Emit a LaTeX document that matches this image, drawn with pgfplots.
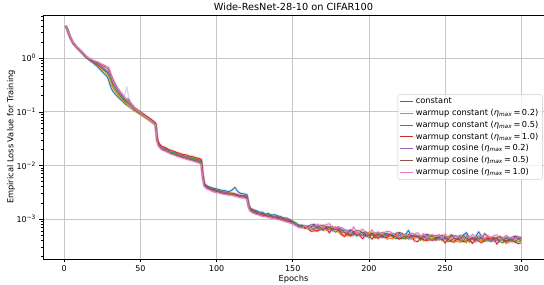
\documentclass[border=0pt]{standalone}
\usepackage{fontspec}
\setmainfont{DejaVu Sans}
\usepackage{pgfplots}
\pgfplotsset{compat=1.18}
\usepackage{pgfplotstable}
\usetikzlibrary{calc}
\definecolor{tblue}{HTML}{1F77B4}
\definecolor{torange}{HTML}{FF7F0E}
\definecolor{tgreen}{HTML}{2CA02C}
\definecolor{tred}{HTML}{D62728}
\definecolor{tpurple}{HTML}{9467BD}
\definecolor{tbrown}{HTML}{8C564B}
\definecolor{tpink}{HTML}{E377C2}

\pgfplotstableread{
e c wa wb wd ca cb cd
1 4.0 4.0 4.0 4.0 4.05 4.0 4.05
2 3.45 3.47 3.46 3.45 3.48 3.46 3.49
3 2.85 2.87 2.86 2.85 2.88 2.87 2.89
4 2.4 2.42 2.42 2.41 2.43 2.42 2.44
5 2.1 2.12 2.12 2.11 2.13 2.12 2.14
6 1.88 1.9 1.9 1.89 1.91 1.9 1.92
8 1.6 1.62 1.62 1.61 1.63 1.62 1.64
10 1.41 1.43 1.43 1.42 1.44 1.43 1.45
12 1.22 1.25 1.25 1.24 1.26 1.26 1.27
14 1.06 1.08 1.08 1.08 1.09 1.09 1.10
16 0.95 0.97 0.97 0.97 0.98 0.98 1.00
18 0.86 0.88 0.89 0.89 0.90 0.91 0.94
20 0.77 0.80 0.82 0.82 0.83 0.86 0.89
22 0.69 0.73 0.75 0.76 0.77 0.81 0.86
24 0.60 0.65 0.68 0.70 0.70 0.76 0.79
26 0.52 0.58 0.61 0.64 0.64 0.71 0.75
27 0.49 0.55 0.58 0.61 0.61 0.69 0.73
28 0.46 0.51 0.55 0.58 0.58 0.66 0.67
29 0.40 0.47 0.51 0.55 0.55 0.63 0.69
30 0.32 0.40 0.45 0.50 0.50 0.56 0.58
31 0.27 0.32 0.37 0.42 0.42 0.47 0.45
32 0.24 0.28 0.31 0.35 0.35 0.40 0.38
34 0.205 0.23 0.25 0.28 0.28 0.31 0.30
36 0.18 0.195 0.21 0.23 0.23 0.25 0.25
38 0.16 0.17 0.18 0.195 0.20 0.21 0.21
40 0.14 0.148 0.158 0.168 0.17 0.178 0.18
42 0.128 0.13 0.142 0.15 0.175 0.157 0.155
44 0.117 0.117 0.128 0.135 0.138 0.14 0.137
46 0.106 0.105 0.112 0.118 0.118 0.12 0.118
48 0.098 0.097 0.102 0.108 0.107 0.108 0.106
50 0.090 0.089 0.093 0.099 0.097 0.098 0.096
52 0.083 0.082 0.085 0.091 0.088 0.089 0.087
54 0.076 0.075 0.078 0.083 0.080 0.081 0.079
56 0.069 0.069 0.071 0.076 0.073 0.073 0.072
58 0.063 0.063 0.065 0.069 0.066 0.066 0.065
60 0.057 0.057 0.059 0.062 0.058 0.058 0.057
61 30e-3 30e-3 31e-3 33e-3 29e-3 29e-3 28e-3
62 24.5e-3 24.0e-3 25.0e-3 26.2e-3 23.6e-3 23.2e-3 22.6e-3
64 21.2e-3 21.8e-3 20.8e-3 22.8e-3 21.5e-3 20.0e-3 19.7e-3
66 19.8e-3 20.5e-3 21.0e-3 21.8e-3 19.6e-3 19.2e-3 18.5e-3
68 19.0e-3 18.4e-3 19.4e-3 20.3e-3 18.6e-3 17.8e-3 17.6e-3
70 17.8e-3 18.2e-3 17.3e-3 19.1e-3 17.4e-3 16.8e-3 16.3e-3
72 16.7e-3 17.3e-3 17.6e-3 18.4e-3 16.5e-3 16.2e-3 15.7e-3
74 16.4e-3 15.8e-3 16.6e-3 17.4e-3 15.9e-3 15.3e-3 14.8e-3
76 15.6e-3 15.9e-3 15.5e-3 16.8e-3 15.0e-3 14.7e-3 14.2e-3
78 15.0e-3 14.7e-3 15.3e-3 16.0e-3 14.6e-3 14.0e-3 13.6e-3
80 14.4e-3 14.7e-3 14.6e-3 15.8e-3 14.1e-3 13.6e-3 13.1e-3
82 14.1e-3 13.6e-3 14.3e-3 15.0e-3 13.5e-3 13.1e-3 12.6e-3
84 13.4e-3 13.8e-3 13.7e-3 14.7e-3 13.0e-3 12.6e-3 12.2e-3
86 13.1e-3 12.8e-3 13.3e-3 14.1e-3 12.6e-3 12.2e-3 11.7e-3
88 12.5e-3 12.6e-3 12.8e-3 13.6e-3 12.1e-3 11.7e-3 11.2e-3
90 11.8e-3 11.9e-3 12.2e-3 13.0e-3 11.5e-3 11.1e-3 10.6e-3
91 64e-4 63e-4 64e-4 67e-4 61e-4 60e-4 58e-4
92 45e-4 43e-4 44e-4 46e-4 42e-4 41e-4 40e-4
94 41e-4 38e-4 40e-4 40e-4 39e-4 38e-4 36e-4
96 39e-4 37e-4 38e-4 37e-4 37e-4 36e-4 34e-4
98 37.5e-4 35.5e-4 34.5e-4 36.2e-4 34.5e-4 33.8e-4 32.0e-4
100 36.5e-4 35.0e-4 33.4e-4 34.2e-4 33.6e-4 32.8e-4 31.0e-4
102 35.2e-4 32.5e-4 33.8e-4 33.0e-4 32.4e-4 31.6e-4 30.4e-4
104 34.4e-4 32.8e-4 31.3e-4 32.0e-4 31.8e-4 30.2e-4 29.3e-4
106 33.5e-4 31.2e-4 32.0e-4 30.6e-4 30.8e-4 29.7e-4 28.7e-4
108 32.5e-4 30.5e-4 29.8e-4 30.6e-4 29.6e-4 29.0e-4 27.8e-4
110 34.5e-4 30.8e-4 29.9e-4 29.7e-4 29.5e-4 29.0e-4 27.9e-4
112 39.0e-4 29.5e-4 29.8e-4 28.7e-4 28.8e-4 28.0e-4 26.5e-4
114 32.5e-4 28.4e-4 27.6e-4 28.5e-4 27.7e-4 26.8e-4 25.8e-4
116 30.0e-4 27.6e-4 27.2e-4 26.8e-4 26.7e-4 25.9e-4 24.8e-4
118 29.6e-4 26.8e-4 27.1e-4 27.5e-4 26.2e-4 25.8e-4 24.5e-4
120 28.5e-4 26.2e-4 26.0e-4 26.5e-4 25.5e-4 25.0e-4 23.8e-4
121 19.5e-4 18.2e-4 18.0e-4 18.3e-4 17.6e-4 17.3e-4 16.8e-4
122 16.2e-4 15.1e-4 15.0e-4 15.3e-4 14.7e-4 14.5e-4 14.0e-4
124 15.0e-4 14.2e-4 13.9e-4 14.3e-4 13.7e-4 13.4e-4 12.9e-4
126 14.4e-4 13.6e-4 13.1e-4 13.7e-4 13.0e-4 12.8e-4 12.2e-4
128 13.5e-4 12.9e-4 13.1e-4 12.6e-4 12.7e-4 12.1e-4 11.9e-4
130 13.5e-4 12.3e-4 12.0e-4 12.7e-4 12.1e-4 11.9e-4 11.1e-4
132 12.4e-4 12.5e-4 11.7e-4 11.9e-4 11.6e-4 11.7e-4 11.1e-4
134 12.7e-4 11.5e-4 12.1e-4 11.5e-4 11.7e-4 11.0e-4 10.7e-4
136 11.9e-4 11.8e-4 11.1e-4 11.6e-4 11.0e-4 11.1e-4 10.1e-4
138 12.1e-4 11.0e-4 11.3e-4 10.8e-4 11.0e-4 10.5e-4 10.4e-4
140 11.5e-4 11.0e-4 10.6e-4 11.1e-4 10.3e-4 10.4e-4 9.8e-4
142 11.2e-4 10.3e-4 10.8e-4 10.0e-4 10.4e-4 9.8e-4 9.6e-4
144 10.5e-4 10.4e-4 9.8e-4 10.2e-4 9.7e-4 9.8e-4 9.1e-4
146 10.5e-4 9.5e-4 9.9e-4 9.4e-4 9.6e-4 9.0e-4 8.9e-4
148 9.8e-4 9.6e-4 9.1e-4 9.6e-4 9.0e-4 9.1e-4 8.4e-4
150 9.2e-4 8.9e-4 8.8e-4 8.7e-4 8.7e-4 8.4e-4 8.1e-4
152 8.3e-4 8.1e-4 8.5e-4 7.7e-4 8.0e-4 7.7e-4 7.6e-4
154 7.8e-4 7.5e-4 7.3e-4 7.5e-4 7.4e-4 7.3e-4 6.9e-4
156 7.4e-4 7.2e-4 7.8e-4 7.1e-4 7.0e-4 7.5e-4 6.8e-4
158 7.4e-4 7.6e-4 7.0e-4 6.8e-4 7.3e-4 6.7e-4 7.4e-4
160 7.3e-4 6.9e-4 7.4e-4 6.7e-4 7.0e-4 7.2e-4 6.6e-4
162 7.7e-4 6.4e-4 7.0e-4 5.9e-4 7.8e-4 7.1e-4 7.8e-4
164 7.9e-4 6.5e-4 6.3e-4 6.0e-4 7.2e-4 8.0e-4 6.7e-4
166 7.2e-4 5.8e-4 7.5e-4 6.1e-4 7.3e-4 6.6e-4 8.1e-4
168 6.5e-4 6.7e-4 7.1e-4 6.3e-4 6.3e-4 7.6e-4 7.6e-4
170 6.6e-4 7.3e-4 6.1e-4 6.6e-4 6.7e-4 7.7e-4 6.9e-4
172 6.7e-4 6.1e-4 6.9e-4 7.0e-4 6.5e-4 7.3e-4 7.9e-4
174 6.8e-4 7.0e-4 7.2e-4 5.5e-4 6.3e-4 7.0e-4 8.2e-4
176 6.2e-4 6.7e-4 6.4e-4 6.8e-4 6.0e-4 7.3e-4 7.0e-4
178 6.8e-4 7.2e-4 5.7e-4 6.4e-4 6.7e-4 6.5e-4 6.7e-4
180 7.0e-4 5.7e-4 6.1e-4 6.6e-4 7.2e-4 6.2e-4 6.9e-4
182 6.2e-4 5.0e-4 6.4e-4 5.3e-4 6.3e-4 5.7e-4 7.0e-4
184 6.2e-4 5.1e-4 5.6e-4 4.7e-4 6.3e-4 5.7e-4 6.3e-4
186 5.9e-4 4.8e-4 5.2e-4 5.6e-4 6.1e-4 5.2e-4 5.9e-4
188 6.3e-4 5.1e-4 5.0e-4 4.8e-4 5.7e-4 6.3e-4 5.3e-4
190 5.3e-4 4.9e-4 5.6e-4 5.6e-4 5.2e-4 5.8e-4 7.2e-4
192 5.2e-4 5.7e-4 4.8e-4 5.3e-4 5.3e-4 6.1e-4 5.4e-4
194 5.1e-4 5.2e-4 5.5e-4 4.9e-4 4.9e-4 6.0e-4 6.0e-4
196 5.3e-4 5.5e-4 5.7e-4 4.3e-4 5.0e-4 5.5e-4 6.5e-4
198 4.9e-4 5.3e-4 5.0e-4 5.4e-4 4.7e-4 5.8e-4 5.5e-4
200 5.4e-4 5.7e-4 4.5e-4 5.0e-4 5.3e-4 5.1e-4 5.3e-4
202 5.2e-4 5.4e-4 5.5e-4 4.2e-4 4.9e-4 5.4e-4 6.3e-4
204 5.3e-4 5.6e-4 4.4e-4 5.0e-4 5.2e-4 5.1e-4 5.2e-4
206 5.6e-4 4.7e-4 5.1e-4 4.3e-4 5.7e-4 5.2e-4 5.7e-4
208 4.7e-4 5.1e-4 4.8e-4 5.1e-4 4.5e-4 5.5e-4 5.3e-4
210 4.7e-4 4.9e-4 5.2e-4 4.6e-4 4.6e-4 5.6e-4 5.6e-4
212 5.3e-4 4.2e-4 5.4e-4 4.5e-4 5.3e-4 4.8e-4 5.9e-4
214 4.9e-4 4.4e-4 5.1e-4 5.1e-4 4.8e-4 5.3e-4 5.8e-4
216 5.3e-4 4.3e-4 4.6e-4 4.9e-4 5.4e-4 4.6e-4 5.2e-4
218 4.7e-4 5.2e-4 4.3e-4 4.7e-4 4.8e-4 5.5e-4 4.9e-4
220 5.5e-4 4.5e-4 4.4e-4 4.2e-4 5.0e-4 5.6e-4 4.7e-4
222 4.6e-4 5.1e-4 4.3e-4 4.7e-4 4.7e-4 5.4e-4 4.8e-4
224 5.1e-4 4.2e-4 4.4e-4 4.8e-4 5.2e-4 4.5e-4 5.1e-4
226 6.2e-4 4.7e-4 4.5e-4 4.8e-4 4.2e-4 5.2e-4 4.9e-4
228 4.6e-4 4.2e-4 4.8e-4 4.9e-4 4.5e-4 5.0e-4 5.5e-4
230 5.1e-4 4.3e-4 4.7e-4 3.9e-4 5.2e-4 4.7e-4 5.2e-4
232 4.7e-4 4.8e-4 4.9e-4 3.8e-4 4.4e-4 4.8e-4 5.6e-4
234 4.8e-4 5.0e-4 4.0e-4 4.4e-4 4.7e-4 4.5e-4 4.7e-4
236 4.8e-4 3.9e-4 5.0e-4 4.1e-4 4.9e-4 4.4e-4 5.4e-4
238 5.2e-4 4.2e-4 4.1e-4 4.0e-4 4.7e-4 5.2e-4 4.4e-4
240 4.3e-4 4.4e-4 4.7e-4 4.1e-4 4.1e-4 5.0e-4 5.0e-4
242 4.3e-4 4.3e-4 4.7e-4 4.0e-4 4.2e-4 4.9e-4 5.1e-4
244 4.1e-4 4.5e-4 4.3e-4 4.5e-4 4.0e-4 4.9e-4 4.7e-4
246 4.4e-4 4.0e-4 4.5e-4 4.6e-4 4.3e-4 4.8e-4 5.2e-4
248 4.3e-4 4.7e-4 4.0e-4 4.3e-4 4.4e-4 5.0e-4 4.4e-4
250 4.4e-4 4.6e-4 4.7e-4 3.6e-4 4.2e-4 4.6e-4 5.3e-4
252 4.5e-4 4.8e-4 3.8e-4 4.2e-4 4.5e-4 4.3e-4 4.5e-4
254 5.0e-4 4.1e-4 4.0e-4 3.8e-4 4.6e-4 5.1e-4 4.3e-4
256 4.8e-4 4.0e-4 4.4e-4 3.7e-4 4.9e-4 4.4e-4 4.9e-4
258 4.7e-4 3.8e-4 4.1e-4 4.4e-4 4.8e-4 4.1e-4 4.6e-4
260 4.6e-4 3.7e-4 4.7e-4 3.9e-4 4.6e-4 4.2e-4 5.1e-4
262 5.0e-4 4.0e-4 3.9e-4 3.8e-4 4.5e-4 5.0e-4 4.2e-4
264 5.6e-4 3.6e-4 4.7e-4 3.9e-4 4.6e-4 4.2e-4 5.1e-4
266 4.5e-4 4.7e-4 3.7e-4 4.2e-4 4.4e-4 4.2e-4 4.4e-4
268 4.3e-4 4.4e-4 4.6e-4 3.5e-4 4.1e-4 4.4e-4 5.2e-4
270 4.6e-4 3.7e-4 4.0e-4 4.3e-4 4.7e-4 4.1e-4 4.6e-4
272 5.8e-4 4.2e-4 4.4e-4 3.9e-4 3.9e-4 4.8e-4 4.8e-4
274 4.7e-4 3.9e-4 4.3e-4 3.6e-4 4.8e-4 4.3e-4 4.8e-4
276 4.1e-4 4.5e-4 3.8e-4 4.2e-4 4.2e-4 5.4e-4 4.3e-4
278 4.2e-4 3.8e-4 4.4e-4 4.4e-4 4.1e-4 4.6e-4 5.0e-4
280 3.9e-4 4.3e-4 4.0e-4 4.3e-4 3.8e-4 4.6e-4 4.4e-4
282 4.2e-4 3.8e-4 4.3e-4 4.4e-4 4.1e-4 4.5e-4 4.9e-4
284 4.2e-4 4.4e-4 4.5e-4 3.4e-4 4.0e-4 4.4e-4 5.1e-4
286 4.1e-4 4.5e-4 3.8e-4 4.1e-4 4.1e-4 4.8e-4 4.2e-4
288 4.3e-4 4.6e-4 3.6e-4 4.1e-4 4.3e-4 4.1e-4 4.3e-4
290 4.4e-4 3.5e-4 4.5e-4 3.7e-4 4.5e-4 4.0e-4 5.0e-4
292 4.5e-4 3.7e-4 3.9e-4 4.2e-4 4.6e-4 3.9e-4 4.5e-4
294 3.9e-4 4.2e-4 4.0e-4 4.2e-4 3.7e-4 4.6e-4 4.4e-4
296 4.8e-4 3.9e-4 3.8e-4 3.7e-4 4.4e-4 4.8e-4 4.1e-4
298 4.6e-4 3.8e-4 4.2e-4 3.5e-4 4.7e-4 4.2e-4 4.7e-4
300 4.2e-4 3.9e-4 3.9e-4 3.6e-4 4.3e-4 4.5e-4 4.6e-4
}\data

\pgfplotstableread{
e v
39 0.19
40 0.22
41 0.30
42 0.21
43 0.16
}\spike

\newcommand{\band}[2]{\addplot[#2, line width=2.8pt, opacity=0.16, forget plot] table[x=e,y=#1]{\data};}
\newcommand{\fnt}[1]{\fontsize{#1}{#1}\selectfont}

\begin{document}
\begin{tikzpicture}
\begin{axis}[
  name=ax,
  scale only axis,
  width=501bp, height=244bp,
  xmin=-13.95, xmax=314.95,
  ymode=log, ymin=1.8e-4, ymax=6.4,
  xtick={0,50,100,150,200,250,300},
  ytick={1e-3,1e-2,1e-1,1},
  yticklabels={10\textsuperscript{−3},10\textsuperscript{−2},10\textsuperscript{−1},10\textsuperscript{0}},
  minor ytick={2e-4,3e-4,4e-4,5e-4,6e-4,7e-4,8e-4,9e-4,2e-3,3e-3,4e-3,5e-3,6e-3,7e-3,8e-3,9e-3,2e-2,3e-2,4e-2,5e-2,6e-2,7e-2,8e-2,9e-2,0.2,0.3,0.4,0.5,0.6,0.7,0.8,0.9,2,3,4,5,6},
  /pgf/number format/assume math mode=true,
  xtick pos=lower, ytick pos=left,
  tick align=outside,
  major tick length=3.5bp, minor tick length=2bp,
  tick style={black, line width=0.6pt},
  grid=major,
  major grid style={color=black!22, line width=0.8pt},
  axis line style={black, line width=0.8pt},
  tick label style={font=\fnt{8}},
  label style={font=\fnt{8.3}},
  xlabel={Epochs},
  ylabel={Empirical Loss Value for Training},
  xlabel style={at={(axis description cs:0.5,-0.082)}, anchor=center},
  ylabel style={at={(axis description cs:-0.0639,0.5)}, anchor=center},
  title={Wide-ResNet-28-10 on CIFAR100},
  every axis title shift=0pt,
  title style={font=\fnt{9.8}, at={(axis description cs:0.5,1.033)}, anchor=center},
  legend cell align=left,
  legend style={at={(rel axis cs:0.997,0.5)}, anchor=east, font=\fnt{8.3},
    draw=black!20, rounded corners=2pt, fill=white, fill opacity=0.8, text opacity=1,
    inner xsep=2bp, inner ysep=1.5bp, row sep=0bp},
  legend image code/.code={\draw[#1, line width=1pt] (0bp,0bp) -- (13bp,0bp);},
  every axis plot/.append style={line join=round},
]
\band{c}{tblue}
\band{wa}{torange}
\band{wb}{tgreen}
\band{wd}{tred}
\band{ca}{tpurple}
\band{cb}{tbrown}
\band{cd}{tpink}
\addplot[tpurple, opacity=0.3, line width=1.2pt, forget plot] table[x=e,y=v]{\spike};
\addplot[tblue, line width=0.9pt] table[x=e,y=c]{\data};
\addlegendentry{constant}
\addplot[torange, line width=0.9pt] table[x=e,y=wa]{\data};
\addlegendentry{warmup constant (\textit{η}\textsubscript{\textit{max}}\,=\,0.2)}
\addplot[tgreen, line width=0.9pt] table[x=e,y=wb]{\data};
\addlegendentry{warmup constant (\textit{η}\textsubscript{\textit{max}}\,=\,0.5)}
\addplot[tred, line width=0.9pt] table[x=e,y=wd]{\data};
\addlegendentry{warmup constant (\textit{η}\textsubscript{\textit{max}}\,=\,1.0)}
\addplot[tpurple, line width=0.9pt] table[x=e,y=ca]{\data};
\addlegendentry{warmup cosine (\textit{η}\textsubscript{\textit{max}}\,=\,0.2)}
\addplot[tbrown, line width=0.9pt] table[x=e,y=cb]{\data};
\addlegendentry{warmup cosine (\textit{η}\textsubscript{\textit{max}}\,=\,0.5)}
\addplot[tpink, line width=0.9pt] table[x=e,y=cd]{\data};
\addlegendentry{warmup cosine (\textit{η}\textsubscript{\textit{max}}\,=\,1.0)}
\end{axis}
\pgfresetboundingbox
\path[use as bounding box] ($(ax.south west)+(-43bp,-26bp)$) rectangle ($(ax.north east)+(0bp,15bp)$);
\end{tikzpicture}
\end{document}
